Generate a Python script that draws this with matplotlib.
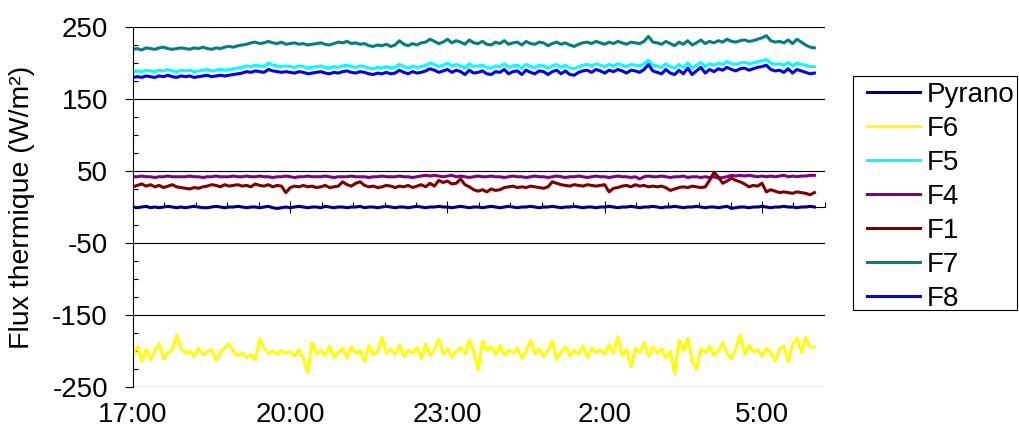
import matplotlib
matplotlib.use("Agg")
import matplotlib.pyplot as plt
import matplotlib.dates as mdates
import matplotlib.ticker as mticker
from matplotlib.patches import Rectangle
import pandas as pd

plt.rcParams['font.family'] = ['Liberation Sans', 'DejaVu Sans']
plt.rcParams['axes.unicode_minus'] = False

# 5-minute readings from 17:00 to 6:00
times = pd.date_range('2000-01-01 17:00', periods=157, freq='5min')

pyrano = [
    0, -1, 0, 1, -1, 0, -1, 0, 1, 0, -1, 0,
    -1, 0, 1, 0, -1, -1, 0, 1, 0, -1, 0, 0,
    1, 0, -1, 0, 0, -1, 0, 1, -1, -2, -1, 0,
    -1, 0, 1, 0, -1, 0, 0, -1, 1, 0, -1, 0,
    0, -1, 0, 0, 1, -1, 0, 0, -1, 0, 1, 0,
    -1, 0, 0, -1, 0, 1, 0, -1, 0, 0, 1, 0,
    0, -1, 0, 1, 0, -1, 0, 0, -1, 0, 1, 0,
    -1, 0, 1, 0, -1, 0, 0, 1, 0, -1, 0, 0,
    1, 0, -1, 0, 0, 1, 0, -1, 0, 0, -1, 0,
    0, 1, 0, -1, 0, 0, 1, 0, -1, 0, 0, 1,
    0, -1, 0, 0, 1, 0, -1, 0, 0, 1, 0, -1,
    0, 0, -1, 0, 1, -2, -1, 0, 0, -1, 0, 0,
    1, 0, -1, 0, 0, 1, 0, 0, -1, 0, 0, 1,
    0]

f6 = [
    -205, -194, -214, -197, -212, -199, -190, -211, -202, -198, -178, -197,
    -203, -200, -208, -196, -205, -201, -198, -213, -202, -195, -190, -201,
    -206, -203, -209, -205, -212, -183, -196, -204, -200, -205, -199, -203,
    -201, -207, -198, -211, -230, -188, -204, -199, -206, -193, -209, -202,
    -196, -210, -194, -203, -199, -214, -192, -205, -200, -181, -203, -197,
    -205, -192, -208, -199, -203, -195, -210, -190, -206, -198, -183, -204,
    -197, -209, -200, -195, -204, -185, -202, -226, -186, -199, -194, -205,
    -192, -206, -198, -203, -196, -210, -200, -185, -204, -197, -208, -199,
    -186, -212, -201, -194, -207, -199, -204, -193, -209, -196, -202, -198,
    -205, -191, -203, -180, -206, -198, -222, -196, -202, -188, -207, -194,
    -203, -197, -210, -200, -232, -185, -199, -182, -214, -225, -196, -202,
    -193, -206, -199, -188, -204, -211, -196, -178, -205, -192, -201, -198,
    -207, -196, -203, -214, -197, -193, -215, -190, -182, -202, -181, -195,
    -194]

f5 = [
    188, 189, 188, 190, 189, 188, 190, 189, 191, 189, 188, 190,
    189, 190, 188, 189, 190, 191, 189, 190, 191, 190, 191, 192,
    193, 194, 196, 195, 197, 196, 195, 200, 197, 196, 195, 196,
    195, 194, 196, 195, 193, 194, 195, 196, 194, 193, 195, 194,
    196, 197, 195, 194, 196, 195, 193, 192, 194, 193, 195, 193,
    194, 198, 195, 193, 196, 194, 195, 197, 200, 198, 195, 197,
    200, 196, 198, 196, 193, 199, 195, 196, 197, 194, 193, 196,
    195, 199, 194, 196, 197, 193, 198, 195, 194, 197, 196, 193,
    196, 198, 194, 197, 193, 192, 195, 197, 198, 196, 199, 197,
    195, 198, 196, 199, 197, 195, 198, 197, 196, 199, 204, 197,
    196, 194, 199, 195, 193, 198, 194, 200, 193, 197, 201, 195,
    199, 197, 200, 198, 202, 199, 198, 200, 201, 199, 200, 202,
    203, 205, 200, 198, 199, 197, 201, 196, 200, 198, 197, 195,
    195]

f4 = [
    42, 42, 43, 42, 42, 41, 42, 42, 43, 42, 42, 42,
    42, 43, 42, 42, 41, 42, 42, 43, 42, 42, 42, 43,
    42, 42, 43, 42, 42, 43, 42, 42, 41, 42, 42, 43,
    42, 41, 42, 42, 43, 42, 42, 42, 43, 42, 41, 42,
    42, 42, 43, 42, 42, 42, 41, 42, 42, 43, 42, 42,
    42, 43, 42, 42, 41, 42, 43, 44, 43, 44, 43, 42,
    43, 44, 42, 43, 42, 41, 42, 43, 42, 42, 43, 42,
    42, 41, 42, 43, 42, 42, 41, 42, 43, 42, 42, 41,
    42, 43, 42, 41, 42, 42, 43, 42, 41, 42, 43, 42,
    42, 41, 42, 43, 42, 42, 41, 42, 39, 42, 43, 42,
    42, 43, 42, 41, 42, 42, 43, 41, 42, 42, 41, 42,
    41, 42, 40, 41, 42, 44, 43, 44, 43, 44, 43, 42,
    43, 42, 43, 42, 43, 44, 42, 43, 42, 43, 43, 44,
    44]

f1 = [
    28, 30, 32, 29, 31, 28, 30, 27, 29, 31, 28, 27,
    26, 25, 27, 26, 28, 29, 31, 30, 28, 31, 29, 30,
    31, 29, 30, 28, 32, 30, 29, 31, 28, 30, 29, 20,
    27, 29, 28, 30, 28, 29, 27, 28, 30, 27, 28, 29,
    35, 31, 29, 33, 35, 30, 28, 29, 27, 28, 30, 29,
    27, 29, 28, 30, 27, 29, 31, 28, 33, 29, 37, 34,
    36, 32, 33, 39, 31, 28, 24, 22, 24, 21, 25, 23,
    24, 27, 28, 29, 27, 28, 27, 29, 28, 27, 26, 28,
    35, 33, 31, 30, 29, 31, 30, 29, 31, 30, 29, 30,
    31, 21, 26, 27, 29, 30, 28, 31, 29, 30, 28, 29,
    28, 29, 27, 23, 25, 27, 28, 27, 29, 28, 27, 28,
    37, 48, 42, 33, 36, 40, 37, 35, 32, 28, 30, 29,
    33, 21, 24, 22, 20, 21, 20, 19, 21, 20, 19, 17,
    20]

f7 = [
    219, 220, 218, 221, 220, 219, 221, 222, 220, 219, 220, 221,
    220, 219, 221, 220, 222, 220, 219, 221, 220, 222, 223, 222,
    224, 225, 226, 228, 229, 227, 228, 230, 228, 227, 229, 226,
    227, 228, 226, 227, 225, 226, 227, 228, 226, 225, 227, 229,
    228, 230, 227, 228, 226, 227, 224, 223, 225, 224, 226, 223,
    225, 231, 226, 224, 227, 225, 228, 229, 233, 230, 227, 229,
    233, 228, 231, 229, 226, 232, 228, 227, 230, 226, 225, 229,
    227, 231, 226, 228, 229, 225, 230, 227, 226, 229, 228, 224,
    227, 229, 226, 228, 225, 223, 226, 228, 229, 227, 230, 228,
    226, 229, 227, 230, 228, 226, 229, 228, 227, 230, 237, 229,
    228, 226, 230, 227, 224, 229, 226, 231, 225, 228, 232, 227,
    230, 228, 231, 229, 233, 230, 229, 231, 232, 230, 231, 233,
    235, 238, 231, 229, 230, 228, 232, 227, 233, 229, 225, 222,
    221]

f8 = [
    180, 181, 180, 182, 181, 180, 182, 181, 183, 181, 180, 182,
    181, 182, 180, 181, 182, 183, 181, 182, 183, 182, 183, 184,
    185, 186, 188, 187, 189, 188, 187, 191, 189, 188, 187, 188,
    187, 186, 188, 187, 185, 186, 187, 188, 186, 185, 187, 186,
    188, 189, 187, 186, 188, 187, 185, 184, 186, 185, 187, 185,
    186, 190, 187, 185, 188, 186, 187, 189, 192, 190, 187, 189,
    191, 187, 190, 188, 184, 190, 186, 187, 189, 185, 184, 188,
    187, 191, 185, 188, 189, 184, 190, 187, 185, 189, 188, 184,
    188, 190, 185, 189, 184, 183, 187, 189, 190, 187, 191, 189,
    186, 190, 188, 191, 189, 186, 190, 189, 187, 191, 198, 189,
    187, 185, 191, 186, 184, 190, 185, 193, 184, 189, 194, 186,
    191, 188, 192, 190, 194, 191, 189, 192, 193, 190, 192, 194,
    195, 197, 191, 189, 190, 187, 192, 186, 191, 189, 187, 185,
    186]

series = [
    ('Pyrano', pyrano, '#000080'),
    ('F6', f6, '#FFFF00'),
    ('F5', f5, '#00FFFF'),
    ('F4', f4, '#800080'),
    ('F1', f1, '#800000'),
    ('F7', f7, '#008080'),
    ('F8', f8, '#0000FF'),
]

fig = plt.figure(figsize=(10.19, 4.34), dpi=100)
ax = fig.add_axes([0.1305, 0.1083, 0.679, 0.8295])

for name, vals, col in series:
    ax.plot(times, vals, color=col, lw=2.2, label=name)

# y axis
ax.set_ylim(-250, 250)
ax.set_yticks([250, 150, 50, -50, -150, -250])
ax.yaxis.set_minor_locator(mticker.MultipleLocator(25))
ax.yaxis.grid(True, which='major', color='black', lw=0.8)
ax.tick_params(axis='y', which='major', direction='out', length=6, width=0.8,
               labelsize=20, pad=12)
ax.tick_params(axis='y', which='minor', direction='in', length=3.5, width=0.8)
ax.set_ylabel('Flux thermique (W/m²)', fontsize=20.5)
ax.yaxis.set_label_coords(-0.142, 0.5)

# x axis: labels at the bottom, ticks on the zero line
x0 = mdates.date2num(times[0])
major_x = [x0 + k * 0.125 for k in range(5)]
minor_x = [x0 + k * 0.025 for k in range(23)]
ax.set_xlim(x0, x0 + 13.2 / 24)
ax.xaxis.set_major_locator(mticker.FixedLocator(major_x))
ax.xaxis.set_major_formatter(mticker.FuncFormatter(
    lambda v, p: '%d:00' % mdates.num2date(v).hour))
ax.tick_params(axis='x', which='both', length=0, labelsize=20, pad=11)

for s in ['top', 'right', 'bottom']:
    ax.spines[s].set_visible(False)
ax.spines['left'].set_linewidth(0.8)

sec = ax.secondary_xaxis(0.5)
sec.xaxis.set_major_locator(mticker.FixedLocator(major_x))
sec.xaxis.set_minor_locator(mticker.FixedLocator(minor_x))
sec.xaxis.set_major_formatter(mticker.NullFormatter())
sec.xaxis.set_minor_formatter(mticker.NullFormatter())
sec.tick_params(axis='x', which='major', direction='inout', length=9, width=0.8)
sec.tick_params(axis='x', which='minor', direction='out', length=3.5, width=0.8)
sec.spines['bottom'].set_color('#404040')
sec.spines['bottom'].set_linewidth(0.8)

# legend box
fig.patches.append(Rectangle((0.837, 0.2857), 0.161, 0.539, transform=fig.transFigure,
                             fill=False, edgecolor='black', lw=0.8))
fig.legend(loc='upper left', bbox_to_anchor=(0.8508, 0.812), fontsize=20,
           frameon=False, handlelength=1.9, handletextpad=0.25,
           labelspacing=0.29, borderpad=0, borderaxespad=0)

fig.savefig('out.png', dpi=100)
